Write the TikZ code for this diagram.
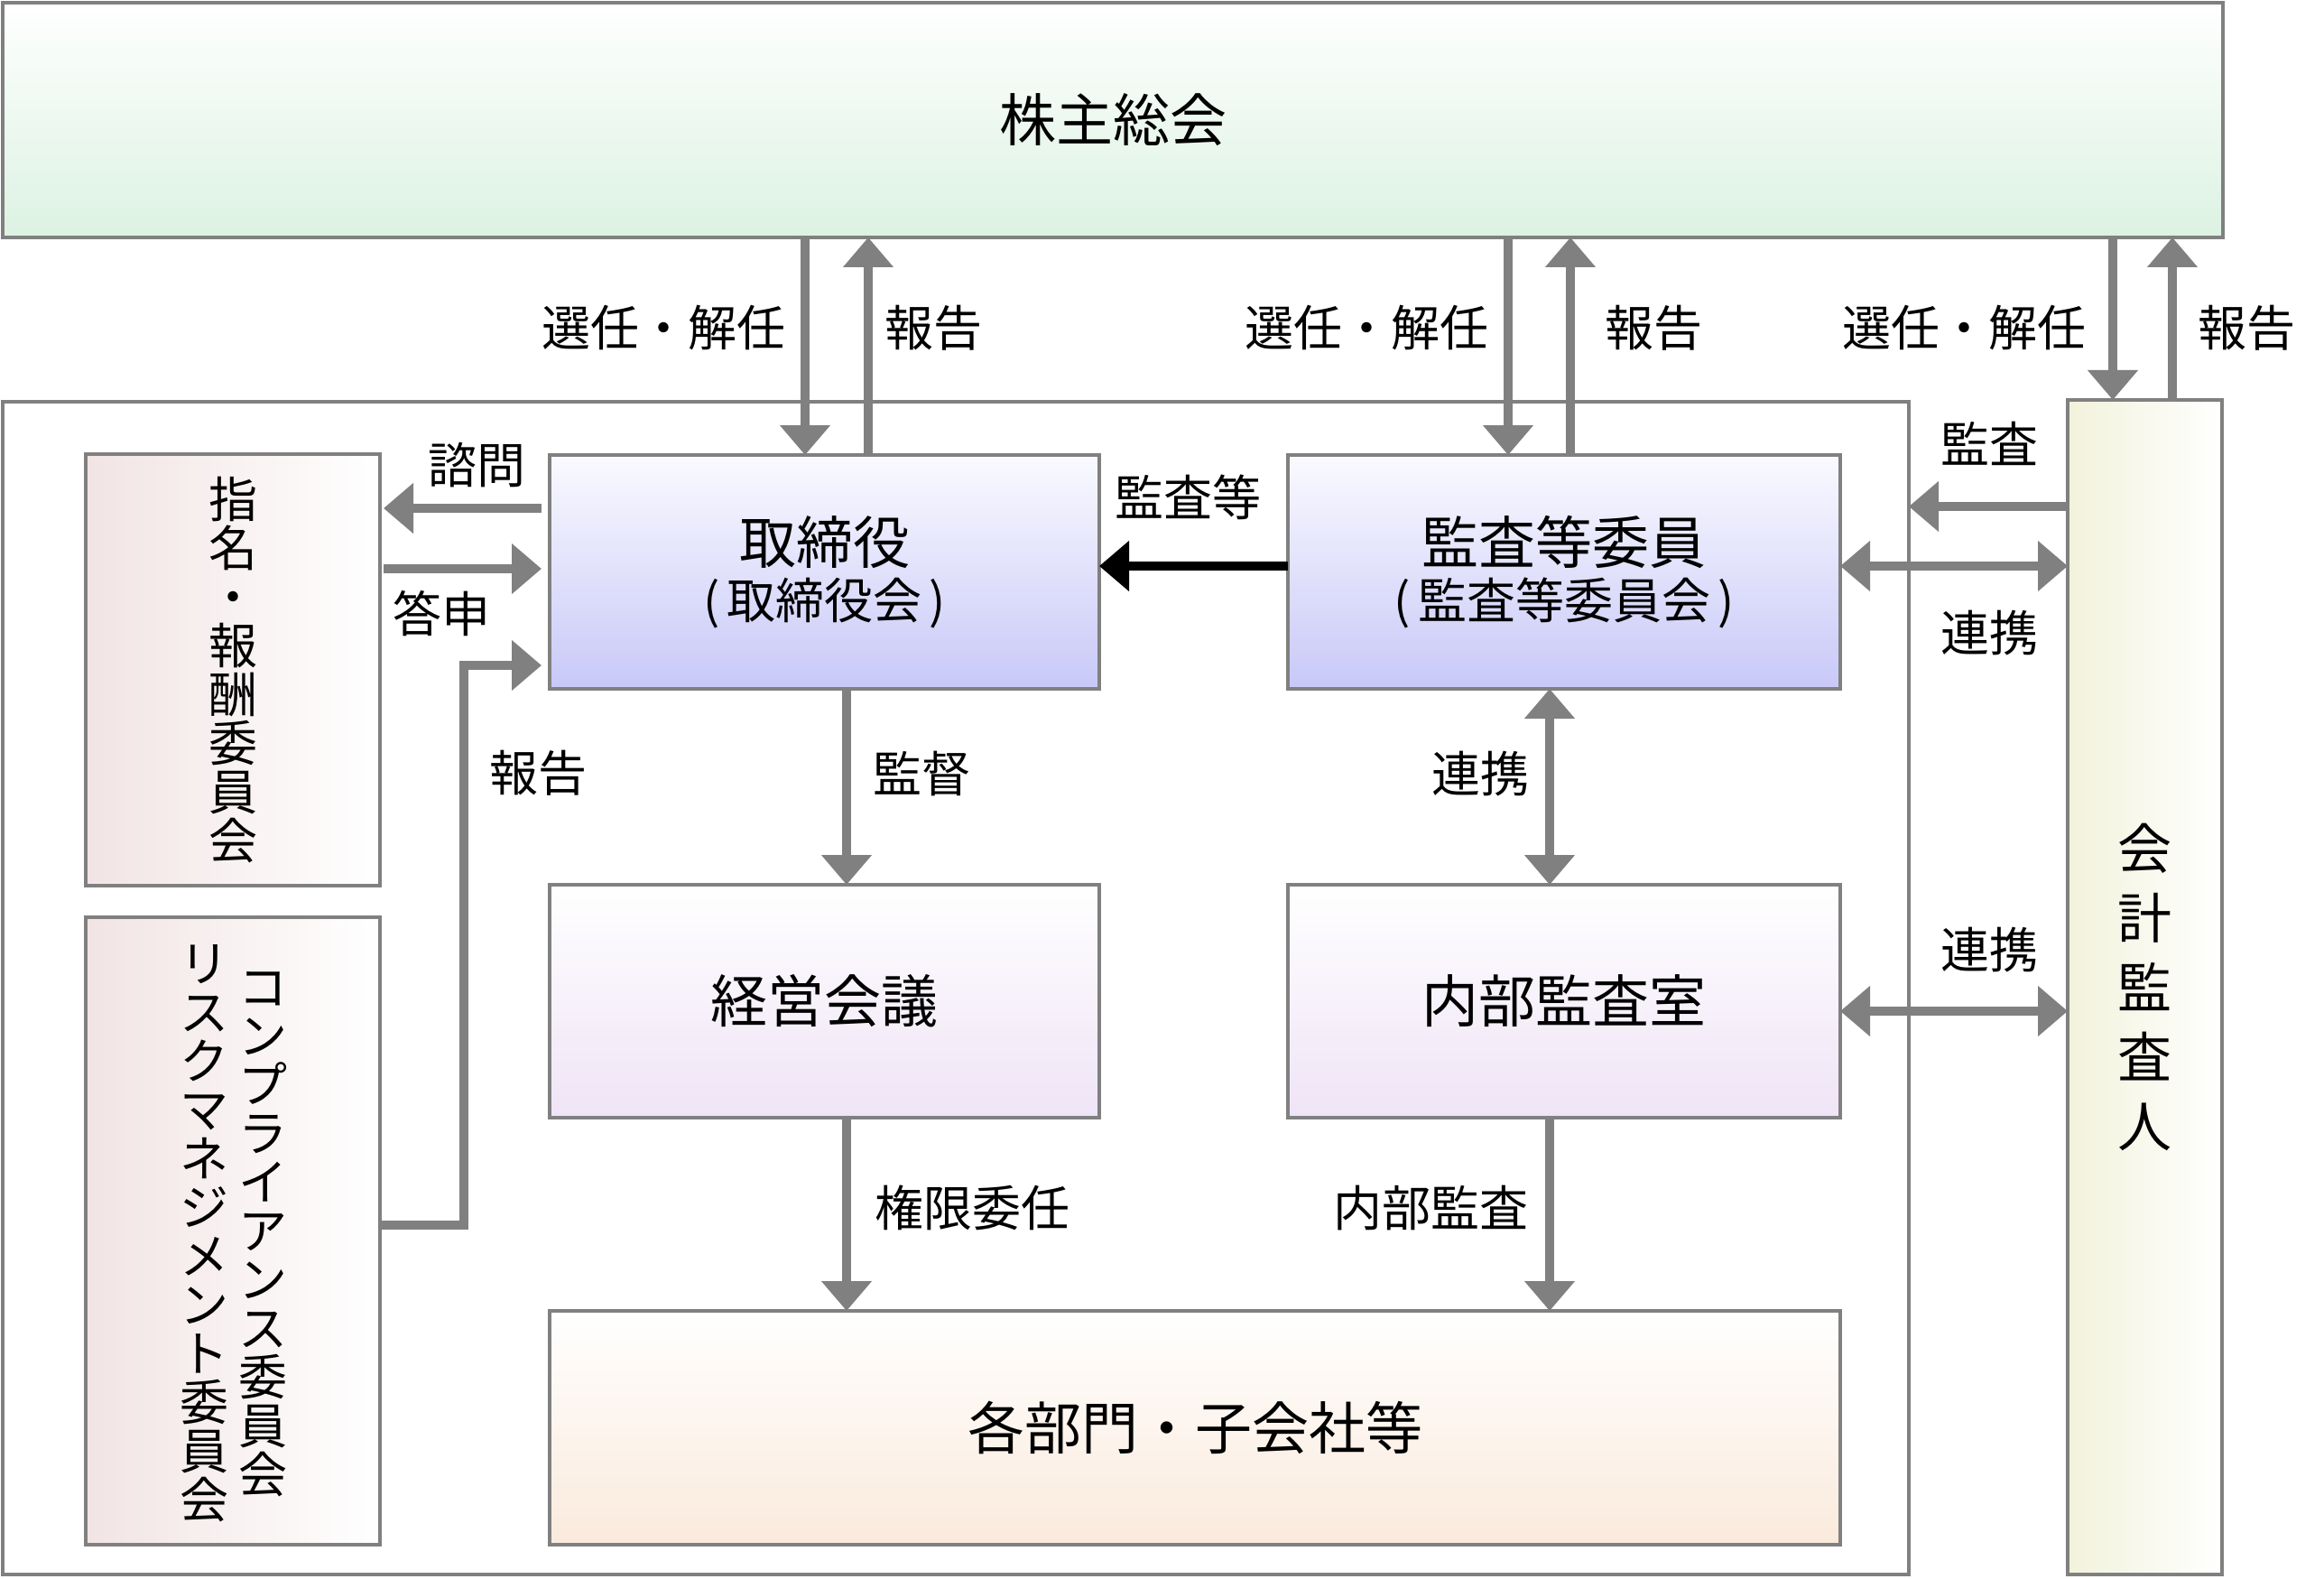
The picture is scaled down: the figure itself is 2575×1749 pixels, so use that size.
\documentclass[tikz,border=0pt]{standalone}
\usepackage{fontspec}
\newfontfamily\jp{Noto Sans CJK JP}
\usetikzlibrary{arrows.meta,calc}
\newcommand\tightls{\lineskiplimit=-50pt\relax}
\definecolor{gline}{HTML}{808080}
\definecolor{cgreen}{HTML}{DCF2E2}
\definecolor{cblue}{HTML}{C8C8F8}
\definecolor{cblueT}{HTML}{FAFAFF}
\definecolor{cpurple}{HTML}{EFE4F6}
\definecolor{cpeach}{HTML}{FAEADC}
\definecolor{cpink}{HTML}{F2E4E4}
\definecolor{cyellow}{HTML}{F2F2DC}
\tikzset{
  box/.style={draw=gline, line width=2pt, inner sep=0pt, outer sep=0pt},
  ga/.style={draw=gline, line width=5pt, -{Triangle[length=16.5pt,width=27pt]}},
  gda/.style={draw=gline, line width=5pt, {Triangle[length=16.5pt,width=27pt]}-{Triangle[length=16.5pt,width=27pt]}},
  ba/.style={draw=black, line width=5pt, -{Triangle[length=16.5pt,width=27pt]}},
  lbl/.style={font=\jp\fontsize{27}{27}\selectfont, inner sep=0pt},
  ttl/.style={font=\jp\fontsize{31.5}{31.5}\selectfont},
  twoline/.style={align=center, font=\jp\fontsize{27}{30.5}\selectfont\tightls},
  vcol/.style={align=center, inner sep=0pt, font=\jp\fontsize{27}{27}\selectfont\tightls},
}
\begin{document}
\begin{tikzpicture}[x=0.5pt,y=-0.5pt]
\useasboundingbox (0,0) rectangle (2575,1749);
\fill[white] (0,0) rectangle (2575,1749);

% frames
\node[box, fill=white, minimum width=1056pt, minimum height=649.5pt] (outer) at (1059,1094.5) {};
\node[box, top color=white, bottom color=cgreen, minimum width=1230pt, minimum height=130pt, ttl] (sh) at (1233,133) {株主総会};
\node[box, left color=cyellow, right color=white, minimum width=85.5pt, minimum height=650.5pt, align=center, font=\jp\fontsize{30}{38.5}\selectfont\tightls] (aud) at (2376.5,1093.5) {会\\計\\監\\査\\人};

% inner boxes
\node[box, top color=cblueT, bottom color=cblue, minimum width=304.5pt, minimum height=129.5pt, twoline] (tori) at (913.5,633.5) {{\fontsize{31.5}{31.5}\selectfont 取締役}\\(\kern4pt 取締役会\kern4pt)};
\node[box, top color=cblueT, bottom color=cblue, minimum width=306pt, minimum height=129.5pt, twoline] (kan) at (1733,633.5) {{\fontsize{31.5}{31.5}\selectfont 監査等委員}\\(\kern4pt 監査等委員会\kern4pt)};
\node[box, top color=white, bottom color=cpurple, minimum width=304.5pt, minimum height=129pt, ttl] (keiei) at (913.5,1109) {経営会議};
\node[box, top color=white, bottom color=cpurple, minimum width=306pt, minimum height=129pt, ttl] (naibu) at (1733,1109) {内部監査室};
\node[box, top color=white, bottom color=cpeach, minimum width=715pt, minimum height=129.5pt, ttl] (kaku) at (1324,1581.5) {各部門・子会社等};
\node[box, left color=cpink, right color=white, minimum width=163pt, minimum height=239pt, vcol] (nomi) at (258,742) {指\\名\\・\\報\\酬\\委\\員\\会};
\node[box, left color=cpink, right color=white, minimum width=163pt, minimum height=347.5pt] (comp) at (258,1363.5) {};
\node[vcol] (compA) at (291,1367) {コ\\ン\\プ\\ラ\\イ\\ア\\ン\\ス\\委\\員\\会};
\node[vcol] (compB) at (226,1366) {リ\\ス\\ク\\マ\\ネ\\ジ\\メ\\ン\\ト\\委\\員\\会};

% helper coordinates
\coordinate (xA) at (892,0);
\coordinate (xB) at (962,0);
\coordinate (xC) at (1671,0);
\coordinate (xD) at (1740,0);
\coordinate (xE) at (2341,0);
\coordinate (xF) at (2407,0);
\coordinate (xM) at (938,0);
\coordinate (xN) at (1717,0);
\coordinate (yS) at (0,563);
\coordinate (yT) at (0,630);
\coordinate (yK) at (0,627);
\coordinate (yA) at (0,561);
\coordinate (yL) at (0,1120);
\coordinate (r1) at (514,1357);
\coordinate (r2) at (514,737);

% arrows top
\draw[ga] (sh.south -| xA) -- (tori.north -| xA);
\draw[ga] (tori.north -| xB) -- (sh.south -| xB);
\draw[ga] (sh.south -| xC) -- (kan.north -| xC);
\draw[ga] (kan.north -| xD) -- (sh.south -| xD);
\draw[ga] (sh.south -| xE) -- (aud.north -| xE);
\draw[ga] (aud.north -| xF) -- (sh.south -| xF);

% left side
\draw[ga, shorten <=4.5pt, shorten >=2pt] (tori.west |- yS) -- (nomi.east |- yS);
\draw[ga, shorten <=2pt, shorten >=4.5pt] (nomi.east |- yT) -- (tori.west |- yT);
\draw[ga, shorten >=4.5pt] (comp.east |- r1) -- (r1) -- (r2) -- (tori.west |- r2);

% center
\draw[ba] (kan.west |- yK) -- (tori.east |- yK);
\draw[ga] (tori.south -| xM) -- (keiei.north -| xM);
\draw[ga] (keiei.south -| xM) -- (kaku.north -| xM);
\draw[gda] (kan.south -| xN) -- (naibu.north -| xN);
\draw[ga] (naibu.south -| xN) -- (kaku.north -| xN);

% right
\draw[ga] (aud.west |- yA) -- (outer.east |- yA);
\draw[gda] (kan.east |- yK) -- (aud.west |- yK);
\draw[gda] (naibu.east |- yL) -- (aud.west |- yL);

% labels
\node[lbl, anchor=east] (l1) at (871,363) {選任・解任};
\node[lbl, anchor=west] (l2) at (980,363) {報告};
\node[lbl, anchor=east] (l3) at (1650,363) {選任・解任};
\node[lbl, anchor=west] (l4) at (1778,363) {報告};
\node[lbl, anchor=east] (l5) at (2312,363) {選任・解任};
\node[lbl, anchor=west] (l6) at (2435,363) {報告};
\node[lbl] (l7) at (528,515) {諮問};
\node[lbl] (l8) at (489,680) {答申};
\node[lbl] (l9) at (596,856) {報告};
\node[lbl] (l10) at (1316,551) {監査等};
\node[lbl] (l11) at (1021,857) {監督};
\node[lbl] (l12) at (1640,857) {連携};
\node[lbl] (l13) at (1077,1338) {権限委任};
\node[lbl] (l14) at (1585,1338) {内部監査};
\node[lbl] (l15) at (2204,491) {監査};
\node[lbl] (l16) at (2204,701) {連携};
\node[lbl] (l17) at (2204,1052) {連携};
\end{tikzpicture}
\end{document}
